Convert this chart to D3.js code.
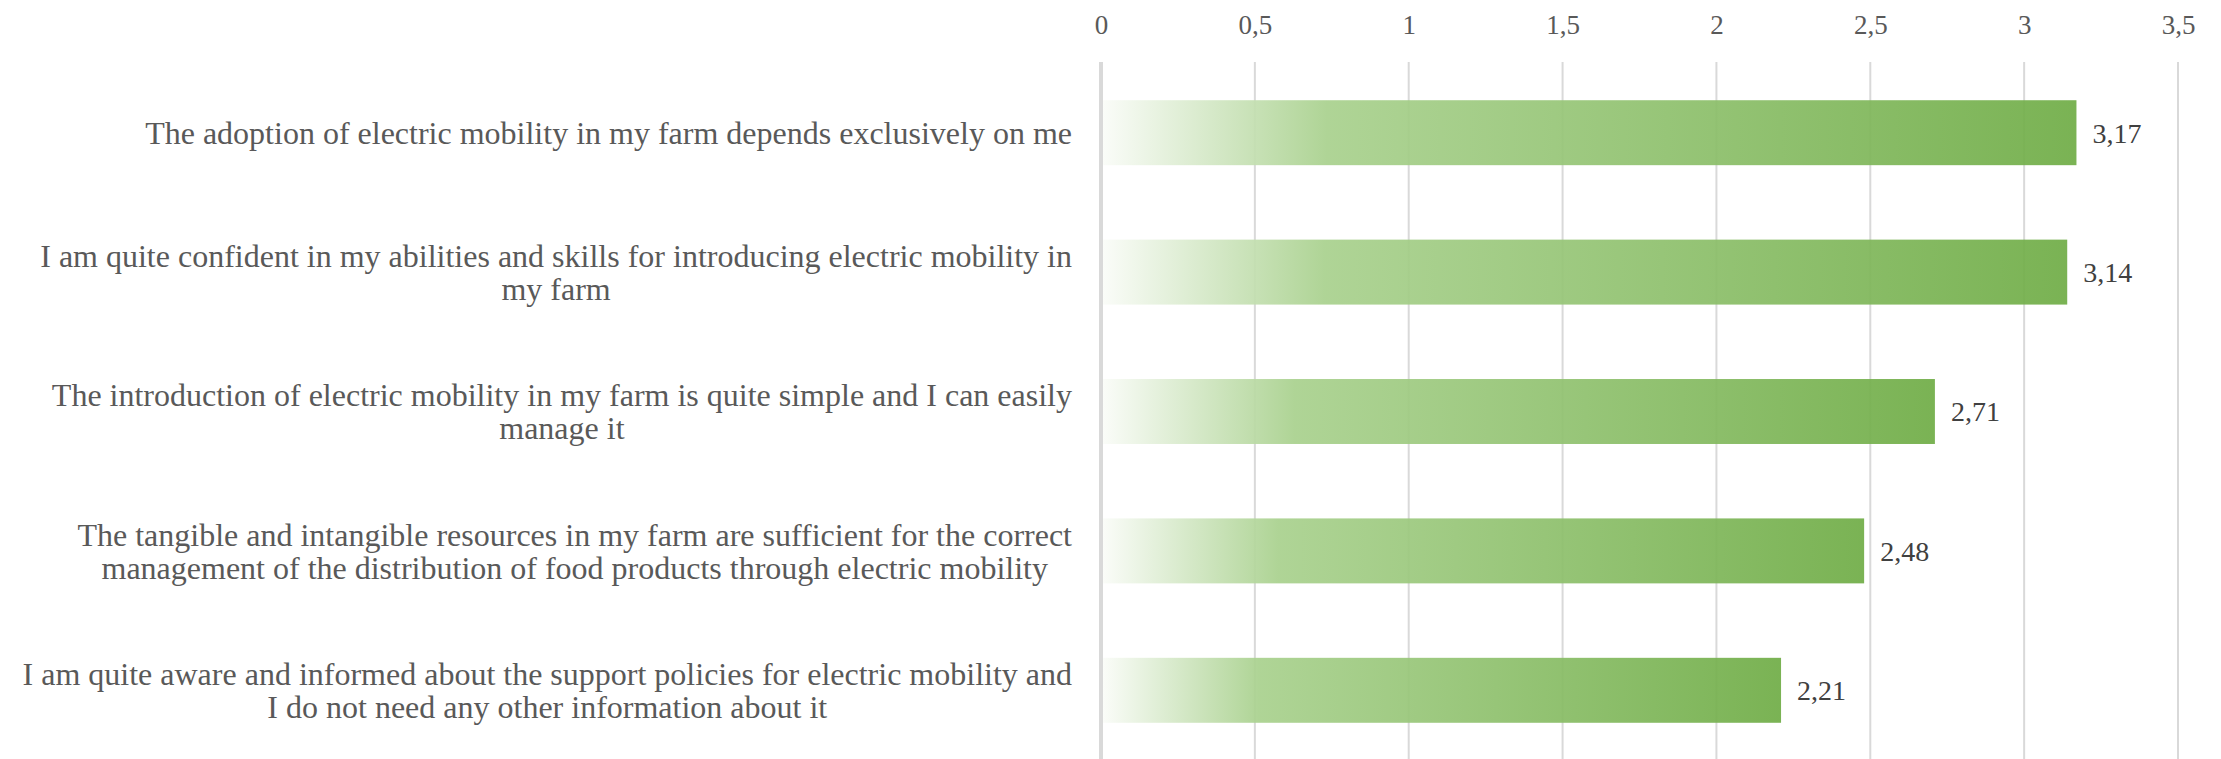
<!DOCTYPE html>
<html>
<head>
<meta charset="utf-8">
<script src="https://cdn.jsdelivr.net/npm/d3@7"></script>
<style>
  body { margin: 0; background: #fff; }
  text { font-family: "Liberation Serif", "DejaVu Serif", serif; }
</style>
</head>
<body>
<div id="chart"></div>
<script>
// categories, top to bottom, already split into the lines Excel wrapped them to
const categories = [
  ["The adoption of electric mobility in my farm depends exclusively on me"],
  ["I am quite confident in my abilities and skills for introducing electric mobility in", "my farm"],
  ["The introduction of electric mobility in my farm is quite simple and I can easily", "manage it"],
  ["The tangible and intangible resources in my farm are sufficient for the correct", "management of the distribution of food products through electric mobility"],
  ["I am quite aware and informed about the support policies for electric mobility and", "I do not need any other information about it"]
];
const values = [3.17, 3.14, 2.71, 2.48, 2.21];
const ticks = [0, 0.5, 1, 1.5, 2, 2.5, 3, 3.5];

const config = {
  width: 2221, height: 759,
  plot: { left: 1101, right: 2178, top: 63, bottom: 760 },
  gridTop: 62,
  labelRight: 1072,
  lineHeight: 33,
  tickY: 24,
  valueOffset: 16,
};

const fmt = v => String(v).replace('.', ',');

const svg = d3.select('#chart').append('svg')
  .attr('width', config.width)
  .attr('height', config.height);

const x = d3.scaleLinear().domain([0, 3.5]).range([config.plot.left, config.plot.right]);
const y = d3.scaleBand()
  .domain(d3.range(categories.length))
  .range([config.plot.top, config.plot.bottom])
  .paddingInner(0.534)
  .paddingOuter(0.267);

// gradient fill, relative to each bar
const grad = svg.append('defs').append('linearGradient')
  .attr('id', 'barGrad')
  .attr('x1', '0%').attr('x2', '100%').attr('y1', '0%').attr('y2', '0%');
grad.append('stop').attr('offset', '0%').attr('stop-color', '#fafcf8');
grad.append('stop').attr('offset', '23%').attr('stop-color', '#a9d18e');
grad.append('stop').attr('offset', '100%').attr('stop-color', '#70ad47');

// grid lines
svg.append('g').attr('class', 'grid')
  .selectAll('line').data(ticks).join('line')
  .attr('x1', d => x(d)).attr('x2', d => x(d))
  .attr('y1', config.gridTop).attr('y2', config.height)
  .attr('stroke', '#d9d9d9')
  .attr('stroke-width', d => d === 0 ? 4 : 2);

// top axis labels
const axis = d3.axisTop(x).tickValues(ticks).tickFormat(fmt).tickSize(0).tickPadding(0);
const axisG = svg.append('g')
  .attr('transform', `translate(0, ${config.tickY + 10})`)
  .call(axis);
axisG.select('.domain').remove();
axisG.selectAll('text')
  .attr('font-family', '"Liberation Serif", serif')
  .attr('font-size', 27)
  .attr('fill', '#595959');

// bars
svg.append('g').attr('class', 'bars')
  .selectAll('rect').data(values).join('rect')
  .attr('x', x(0) + 2)
  .attr('y', (d, i) => y(i))
  .attr('width', d => x(d) - x(0) - 2)
  .attr('height', y.bandwidth())
  .attr('fill', 'url(#barGrad)')
  .attr('fill-opacity', 0.93);

// value labels
svg.append('g').attr('class', 'values')
  .selectAll('text').data(values).join('text')
  .attr('x', d => x(d) + config.valueOffset)
  .attr('y', (d, i) => y(i) + y.bandwidth() / 2)
  .attr('dy', '0.35em')
  .attr('font-size', 28)
  .attr('fill', '#404040')
  .text(fmt);

// category labels: block right aligned, lines centred inside the block
const labelG = svg.append('g').attr('class', 'labels');
categories.forEach((lines, i) => {
  const g = labelG.append('g');
  const cy = y(i) + y.bandwidth() / 2;
  const texts = g.selectAll('text').data(lines).join('text')
    .attr('y', (d, j) => cy + (j - (lines.length - 1) / 2) * config.lineHeight)
    .attr('dy', '0.35em')
    .attr('font-size', 32)
    .attr('fill', '#595959')
    .attr('text-anchor', 'middle')
    .text(d => d);
  const maxW = d3.max(texts.nodes(), n => n.getComputedTextLength());
  texts.attr('x', config.labelRight - maxW / 2);
});
</script>
</body>
</html>
